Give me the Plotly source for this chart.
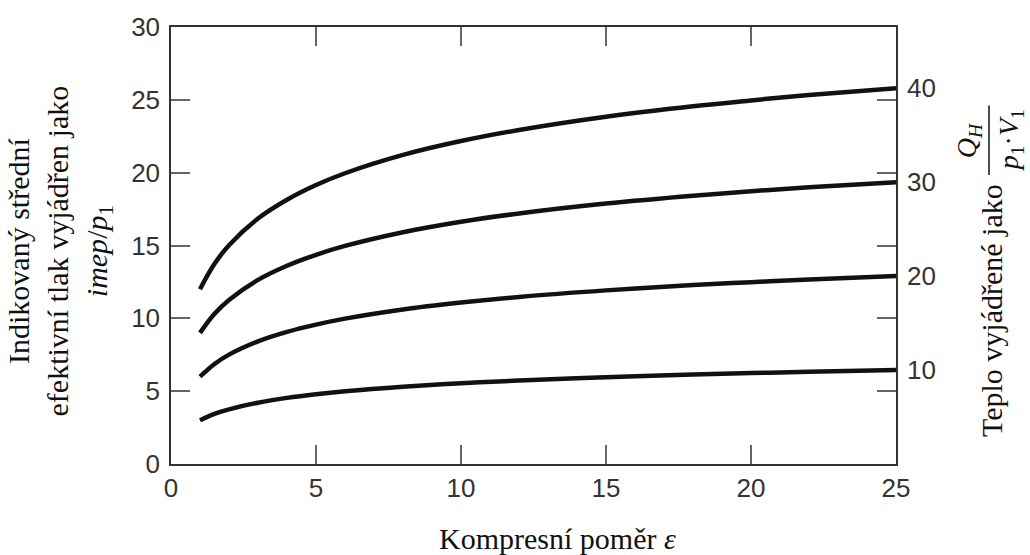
import plotly.graph_objects as go

# Compression ratio samples (x)
eps = [1, 1.5, 2, 3, 4, 5, 6, 8, 10, 12, 15, 18, 20, 22, 25]

# imep/p1 (labelled by Q_H/(p1*V1))
curve_40 = [12.0, 13.74, 15.02, 16.85, 18.14, 19.15, 19.96, 21.22, 22.17, 22.93, 23.84, 24.56, 24.96, 25.33, 25.80]
curve_30 = [9.0, 10.31, 11.26, 12.64, 13.61, 14.36, 14.97, 15.91, 16.63, 17.20, 17.88, 18.42, 18.72, 19.00, 19.35]
curve_20 = [6.0, 6.87, 7.51, 8.42, 9.07, 9.57, 9.98, 10.61, 11.08, 11.47, 11.92, 12.28, 12.48, 12.66, 12.90]
curve_10 = [3.0, 3.44, 3.75, 4.21, 4.54, 4.79, 4.99, 5.30, 5.54, 5.73, 5.96, 6.14, 6.24, 6.33, 6.45]

curves = [curve_40, curve_30, curve_20, curve_10]
curve_labels = ["40", "30", "20", "10"]

x_ticks = [0, 5, 10, 15, 20, 25]
y_ticks = [0, 5, 10, 15, 20, 25, 30]

L, R, T, B = 171, 134, 24, 91
W, H = 1030, 555
PW = W - L - R
PH = H - T - B

fig = go.Figure()
for ys in curves:
    fig.add_trace(go.Scatter(
        x=eps, y=ys, mode="lines",
        line=dict(color="#111111", width=4.5, shape="spline", smoothing=1.0),
        showlegend=False, hoverinfo="skip",
    ))

for ys, lab in zip(curves, curve_labels):
    fig.add_annotation(
        x=eps[-1], y=ys[-1], xref="x", yref="y",
        text=lab, showarrow=False, xanchor="left", yanchor="middle",
        xshift=9, font=dict(family="Liberation Sans, Arial", size=26, color="#333333"),
    )

tick_font = dict(family="Liberation Sans, Arial", size=26, color="#333333")
fig.update_xaxes(
    range=[0, 25], tickvals=x_ticks, ticktext=[str(v) for v in x_ticks],
    ticks="inside", ticklen=19, tickwidth=1.5, tickcolor="#666666",
    showline=True, linecolor="#333333", linewidth=1.5, mirror="ticks",
    showgrid=False, zeroline=False, tickfont=tick_font, ticklabelstandoff=0,
)
fig.update_yaxes(
    range=[0, 30], tickvals=y_ticks, ticktext=[str(v) for v in y_ticks],
    ticks="inside", ticklen=19, tickwidth=1.5, tickcolor="#666666",
    showline=True, linecolor="#333333", linewidth=1.5, mirror="ticks",
    showgrid=False, zeroline=False, tickfont=tick_font, ticklabelstandoff=4,
)

serif = dict(family="Liberation Serif, Times New Roman", size=30, color="#111111")
serif_frac = dict(family="Liberation Serif, Times New Roman", size=28, color="#111111")

# x-axis title
fig.add_annotation(
    xref="paper", yref="paper", x=(557 - L) / PW, y=0, yshift=-(538 - (T + PH)),
    text="Kompresní poměr <i>ε</i>", showarrow=False,
    xanchor="center", yanchor="middle", font=serif,
)

# left y-axis title (three lines)
fig.add_annotation(
    xref="paper", yref="paper", x=0, xshift=60 - L, y=(T + PH - 250) / PH,
    text="Indikovaný střední<br>efektivní tlak vyjádřen jako<br><i>imep</i>/<i>p</i><sub>1</sub>",
    showarrow=False, textangle=-90, xanchor="center", yanchor="middle",
    align="center", font=serif,
)

# right title
fig.add_annotation(
    xref="paper", yref="paper", x=1, xshift=991 - (L + PW), y=(T + PH - 310) / PH,
    text="Teplo vyjádřené jako", showarrow=False, textangle=-90,
    xanchor="center", yanchor="middle", font=serif,
)
fig.add_annotation(
    xref="paper", yref="paper", x=1, xshift=968 - (L + PW), y=(T + PH - 138) / PH,
    text="<i>Q</i><sub><i>H</i></sub>", showarrow=False, textangle=-90,
    xanchor="center", yanchor="middle", font=serif_frac,
)
fig.add_annotation(
    xref="paper", yref="paper", x=1, xshift=1010 - (L + PW), y=(T + PH - 138) / PH,
    text="<i>p</i><sub>1</sub>·<i>V</i><sub>1</sub>", showarrow=False, textangle=-90,
    xanchor="center", yanchor="middle", font=serif_frac,
)
fig.add_shape(
    type="line", xref="paper", yref="paper",
    x0=(989 - L) / PW, x1=(989 - L) / PW,
    y0=(T + PH - 103) / PH, y1=(T + PH - 173) / PH,
    line=dict(color="#111111", width=1.5),
)

fig.update_layout(
    width=W, height=H, margin=dict(l=L, r=R, t=T, b=B),
    paper_bgcolor="white", plot_bgcolor="white",
)

fig.write_html(
    "out.html",
    config={"displayModeBar": False},
    post_script="document.body.style.margin='0';document.body.style.overflow='hidden';",
)
